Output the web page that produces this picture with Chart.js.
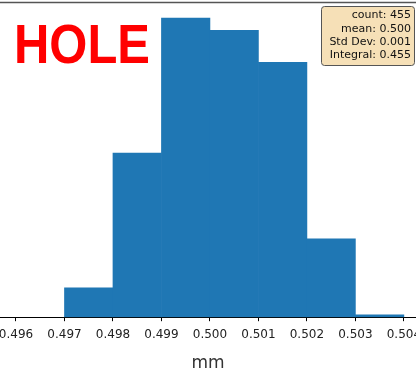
<!DOCTYPE html>
<html>
<head>
<meta charset="utf-8">
<script src="https://cdn.jsdelivr.net/npm/chart.js@4.4.1/dist/chart.umd.min.js"></script>
<style>
  html, body { margin: 0; padding: 0; background: #fff; }
  #box { width: 416px; height: 371px; }
</style>
</head>
<body>
<div id="box"><canvas id="grafico"></canvas></div>
<script>
// Dados do histograma (centro de cada classe e contagem)
const centrosClasses = [0.4975, 0.4985, 0.4995, 0.5005, 0.5015, 0.5025, 0.5035];
const contagens = [12, 67, 122, 117, 104, 32, 1];
const ticksX = [0.496, 0.497, 0.498, 0.499, 0.500, 0.501, 0.502, 0.503, 0.504];
const linhasStats = ['count: 455', 'mean: 0.500', 'Std Dev: 0.001', 'Integral: 0.455'];
const titulo = 'HOLE';

// Plugin para desenhar a borda de cima, o texto HOLE e a caixa de estatísticas
const extras = {
    id: 'extras',
    afterDraw(chart) {
        const ctx = chart.ctx;
        const area = chart.chartArea;
        ctx.save();

        // linha superior (spine)
        ctx.strokeStyle = '#555';
        ctx.lineWidth = 1.5;
        ctx.beginPath();
        ctx.moveTo(0, area.top + 0.5);
        ctx.lineTo(chart.width, area.top + 0.5);
        ctx.stroke();

        // texto HOLE
        ctx.font = 'bold 56px "Liberation Sans", Arial, sans-serif';
        ctx.fillStyle = '#ff0000';
        ctx.textBaseline = 'alphabetic';
        ctx.textAlign = 'left';
        const larg = ctx.measureText(titulo).width;
        ctx.save();
        ctx.translate(14, 63);
        ctx.scale(136 / larg, 1);
        ctx.fillText(titulo, 0, 0);
        ctx.restore();

        // caixa de estatísticas
        ctx.fillStyle = 'rgba(245, 222, 179, 0.95)';
        ctx.strokeStyle = '#555';
        ctx.lineWidth = 1;
        ctx.beginPath();
        ctx.roundRect(321.5, 6.5, 93, 59, 3);
        ctx.fill();
        ctx.stroke();

        ctx.font = '11px "DejaVu Sans", sans-serif';
        ctx.fillStyle = '#111';
        ctx.textAlign = 'right';
        ctx.textBaseline = 'middle';
        linhasStats.forEach((t, i) => {
            ctx.fillText(t, 411, 15.5 + i * 13.2);
        });
        ctx.restore();
    }
};

const ctx = document.getElementById('grafico').getContext('2d');
const grafico = new Chart(ctx, {
    type: 'bar',
    data: {
        datasets: [{
            data: centrosClasses.map((c, i) => ({ x: c, y: contagens[i] })),
            backgroundColor: '#1f77b4',
            borderWidth: 0,
            barPercentage: 1,
            categoryPercentage: 1
        }]
    },
    options: {
        responsive: true,
        maintainAspectRatio: false,
        animation: false,
        layout: { padding: { top: 2, left: 0, right: 0, bottom: -3 } },
        plugins: {
            legend: { display: false },
            tooltip: { enabled: false }
        },
        scales: {
            x: {
                type: 'linear',
                offset: false,
                min: 0.49567,
                max: 0.50425,
                afterBuildTicks: (scale) => {
                    scale.ticks = ticksX.map(v => ({ value: v }));
                },
                afterFit: (scale) => {
                    scale.paddingLeft = 0;
                    scale.paddingRight = 0;
                },
                ticks: {
                    autoSkip: false,
                    maxRotation: 0,
                    padding: 6,
                    color: '#222',
                    font: { family: '"DejaVu Sans", sans-serif', size: 12 },
                    callback: (v) => Number(v).toFixed(3)
                },
                grid: {
                    offset: false,
                    drawOnChartArea: false,
                    drawTicks: true,
                    tickLength: 4,
                    color: '#000'
                },
                border: { color: '#000', width: 1 },
                title: {
                    display: true,
                    text: 'mm',
                    color: '#333',
                    font: { family: '"DejaVu Sans", sans-serif', size: 17 },
                    padding: { top: 6, bottom: 0 }
                }
            },
            y: {
                display: false,
                min: 0,
                max: 128.6
            }
        }
    },
    plugins: [extras]
});
</script>
</body>
</html>
